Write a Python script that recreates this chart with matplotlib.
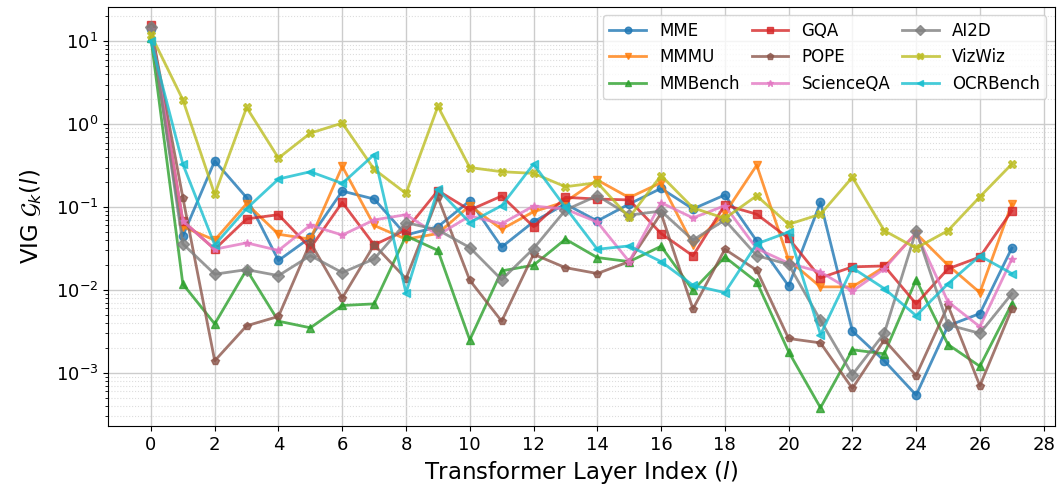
import numpy as np
import matplotlib
matplotlib.use('Agg')
from matplotlib import pyplot as plt

layers = list(range(28))

mme = [14, 0.045, 0.36, 0.13, 0.0227, 0.043, 0.156, 0.125, 0.046, 0.058,
       0.119, 0.033, 0.0665, 0.109, 0.068, 0.109, 0.168, 0.095, 0.14, 0.039,
       0.0112, 0.114, 0.0032, 0.0014, 0.00054, 0.0037, 0.0052, 0.032]
mmmu = [13, 0.058, 0.04, 0.11, 0.047, 0.041, 0.31, 0.06, 0.041, 0.048,
        0.104, 0.054, 0.088, 0.116, 0.212, 0.13, 0.197, 0.035, 0.084, 0.32,
        0.023, 0.0109, 0.0109, 0.019, 0.048, 0.0199, 0.0093, 0.109]
mmbench = [11, 0.0118, 0.0039, 0.0176, 0.0042, 0.0035, 0.0065, 0.0068, 0.045, 0.030,
           0.0025, 0.017, 0.0199, 0.041, 0.0246, 0.022, 0.0337, 0.0099, 0.025, 0.0125,
           0.0018, 0.00038, 0.0019, 0.0017, 0.0133, 0.0022, 0.0012, 0.0068]
gqa = [15.5, 0.068, 0.031, 0.072, 0.081, 0.032, 0.114, 0.035, 0.053, 0.158,
       0.092, 0.136, 0.058, 0.131, 0.125, 0.122, 0.048, 0.0258, 0.106, 0.082,
       0.042, 0.014, 0.019, 0.0195, 0.0068, 0.018, 0.025, 0.09]
pope = [15, 0.13, 0.0014, 0.0037, 0.0048, 0.0375, 0.008, 0.035, 0.0137, 0.131,
        0.0131, 0.0042, 0.027, 0.0186, 0.0158, 0.022, 0.084, 0.0059, 0.031, 0.0173,
        0.0026, 0.0023, 0.00065, 0.0025, 0.00093, 0.0065, 0.0007, 0.0059]
sciqa = [14, 0.068, 0.031, 0.037, 0.030, 0.0605, 0.046, 0.07, 0.081, 0.046,
         0.078, 0.063, 0.103, 0.0946, 0.066, 0.022, 0.113, 0.074, 0.104, 0.0316,
         0.021, 0.0165, 0.0097, 0.018, 0.049, 0.0072, 0.0036, 0.0235]
ai2d = [15, 0.036, 0.0155, 0.0176, 0.0149, 0.026, 0.0162, 0.0237, 0.065, 0.053,
        0.0325, 0.0133, 0.0316, 0.092, 0.137, 0.08, 0.0895, 0.04, 0.0697, 0.026,
        0.0203, 0.0043, 0.00095, 0.003, 0.052, 0.0038, 0.003, 0.009]
vizwiz = [12, 1.97, 0.142, 1.59, 0.39, 0.78, 1.03, 0.286, 0.146, 1.64,
          0.30, 0.267, 0.255, 0.176, 0.197, 0.075, 0.24, 0.098, 0.073, 0.137,
          0.062, 0.082, 0.229, 0.052, 0.032, 0.052, 0.133, 0.33]
ocrbench = [10, 0.33, 0.035, 0.096, 0.218, 0.267, 0.193, 0.43, 0.0092, 0.164,
            0.065, 0.104, 0.33, 0.099, 0.031, 0.034, 0.022, 0.0114, 0.0093, 0.036,
            0.050, 0.0029, 0.0185, 0.0104, 0.0049, 0.0119, 0.0258, 0.0158]

series = [('MME', mme, 'o', 'C0'),
          ('MMMU', mmmu, 'v', 'C1'),
          ('MMBench', mmbench, '^', 'C2'),
          ('GQA', gqa, 's', 'C3'),
          ('POPE', pope, 'p', 'C5'),
          ('ScienceQA', sciqa, '*', 'C6'),
          ('AI2D', ai2d, 'D', 'C7'),
          ('VizWiz', vizwiz, 'X', 'C8'),
          ('OCRBench', ocrbench, '<', 'C9')]

fig = plt.figure(figsize=(10.58, 4.9), dpi=100)
ax = fig.add_axes([0.102, 0.131, 0.895, 0.855])

for name, vals, mk, col in series:
    ax.plot(layers, vals, marker=mk, color=col, label=name, alpha=0.8,
            linewidth=2, markersize=6)

ax.set_yscale('log')
ax.set_ylim(2.3e-4, 26)
ax.set_xlim(-1.35, 28.35)
ax.set_xticks(range(0, 29, 2))
ax.grid(True, which='major', color='#cccccc', linewidth=1)
ax.grid(True, which='minor', axis='y', color='#dddddd', linestyle=':', linewidth=0.8)
ax.set_axisbelow(True)
ax.tick_params(axis='both', which='major', labelsize=13)
ax.set_xlabel('Transformer Layer Index ($l$)', fontsize=16.5)
ax.set_ylabel('VIG $\\mathcal{G}_k(l)$', fontsize=16.5, labelpad=8)
ax.legend(ncol=3, loc='upper right', fontsize=12, handlelength=2.2,
          columnspacing=0.7, markerscale=0.8)

plt.savefig('out.png', dpi=100)
